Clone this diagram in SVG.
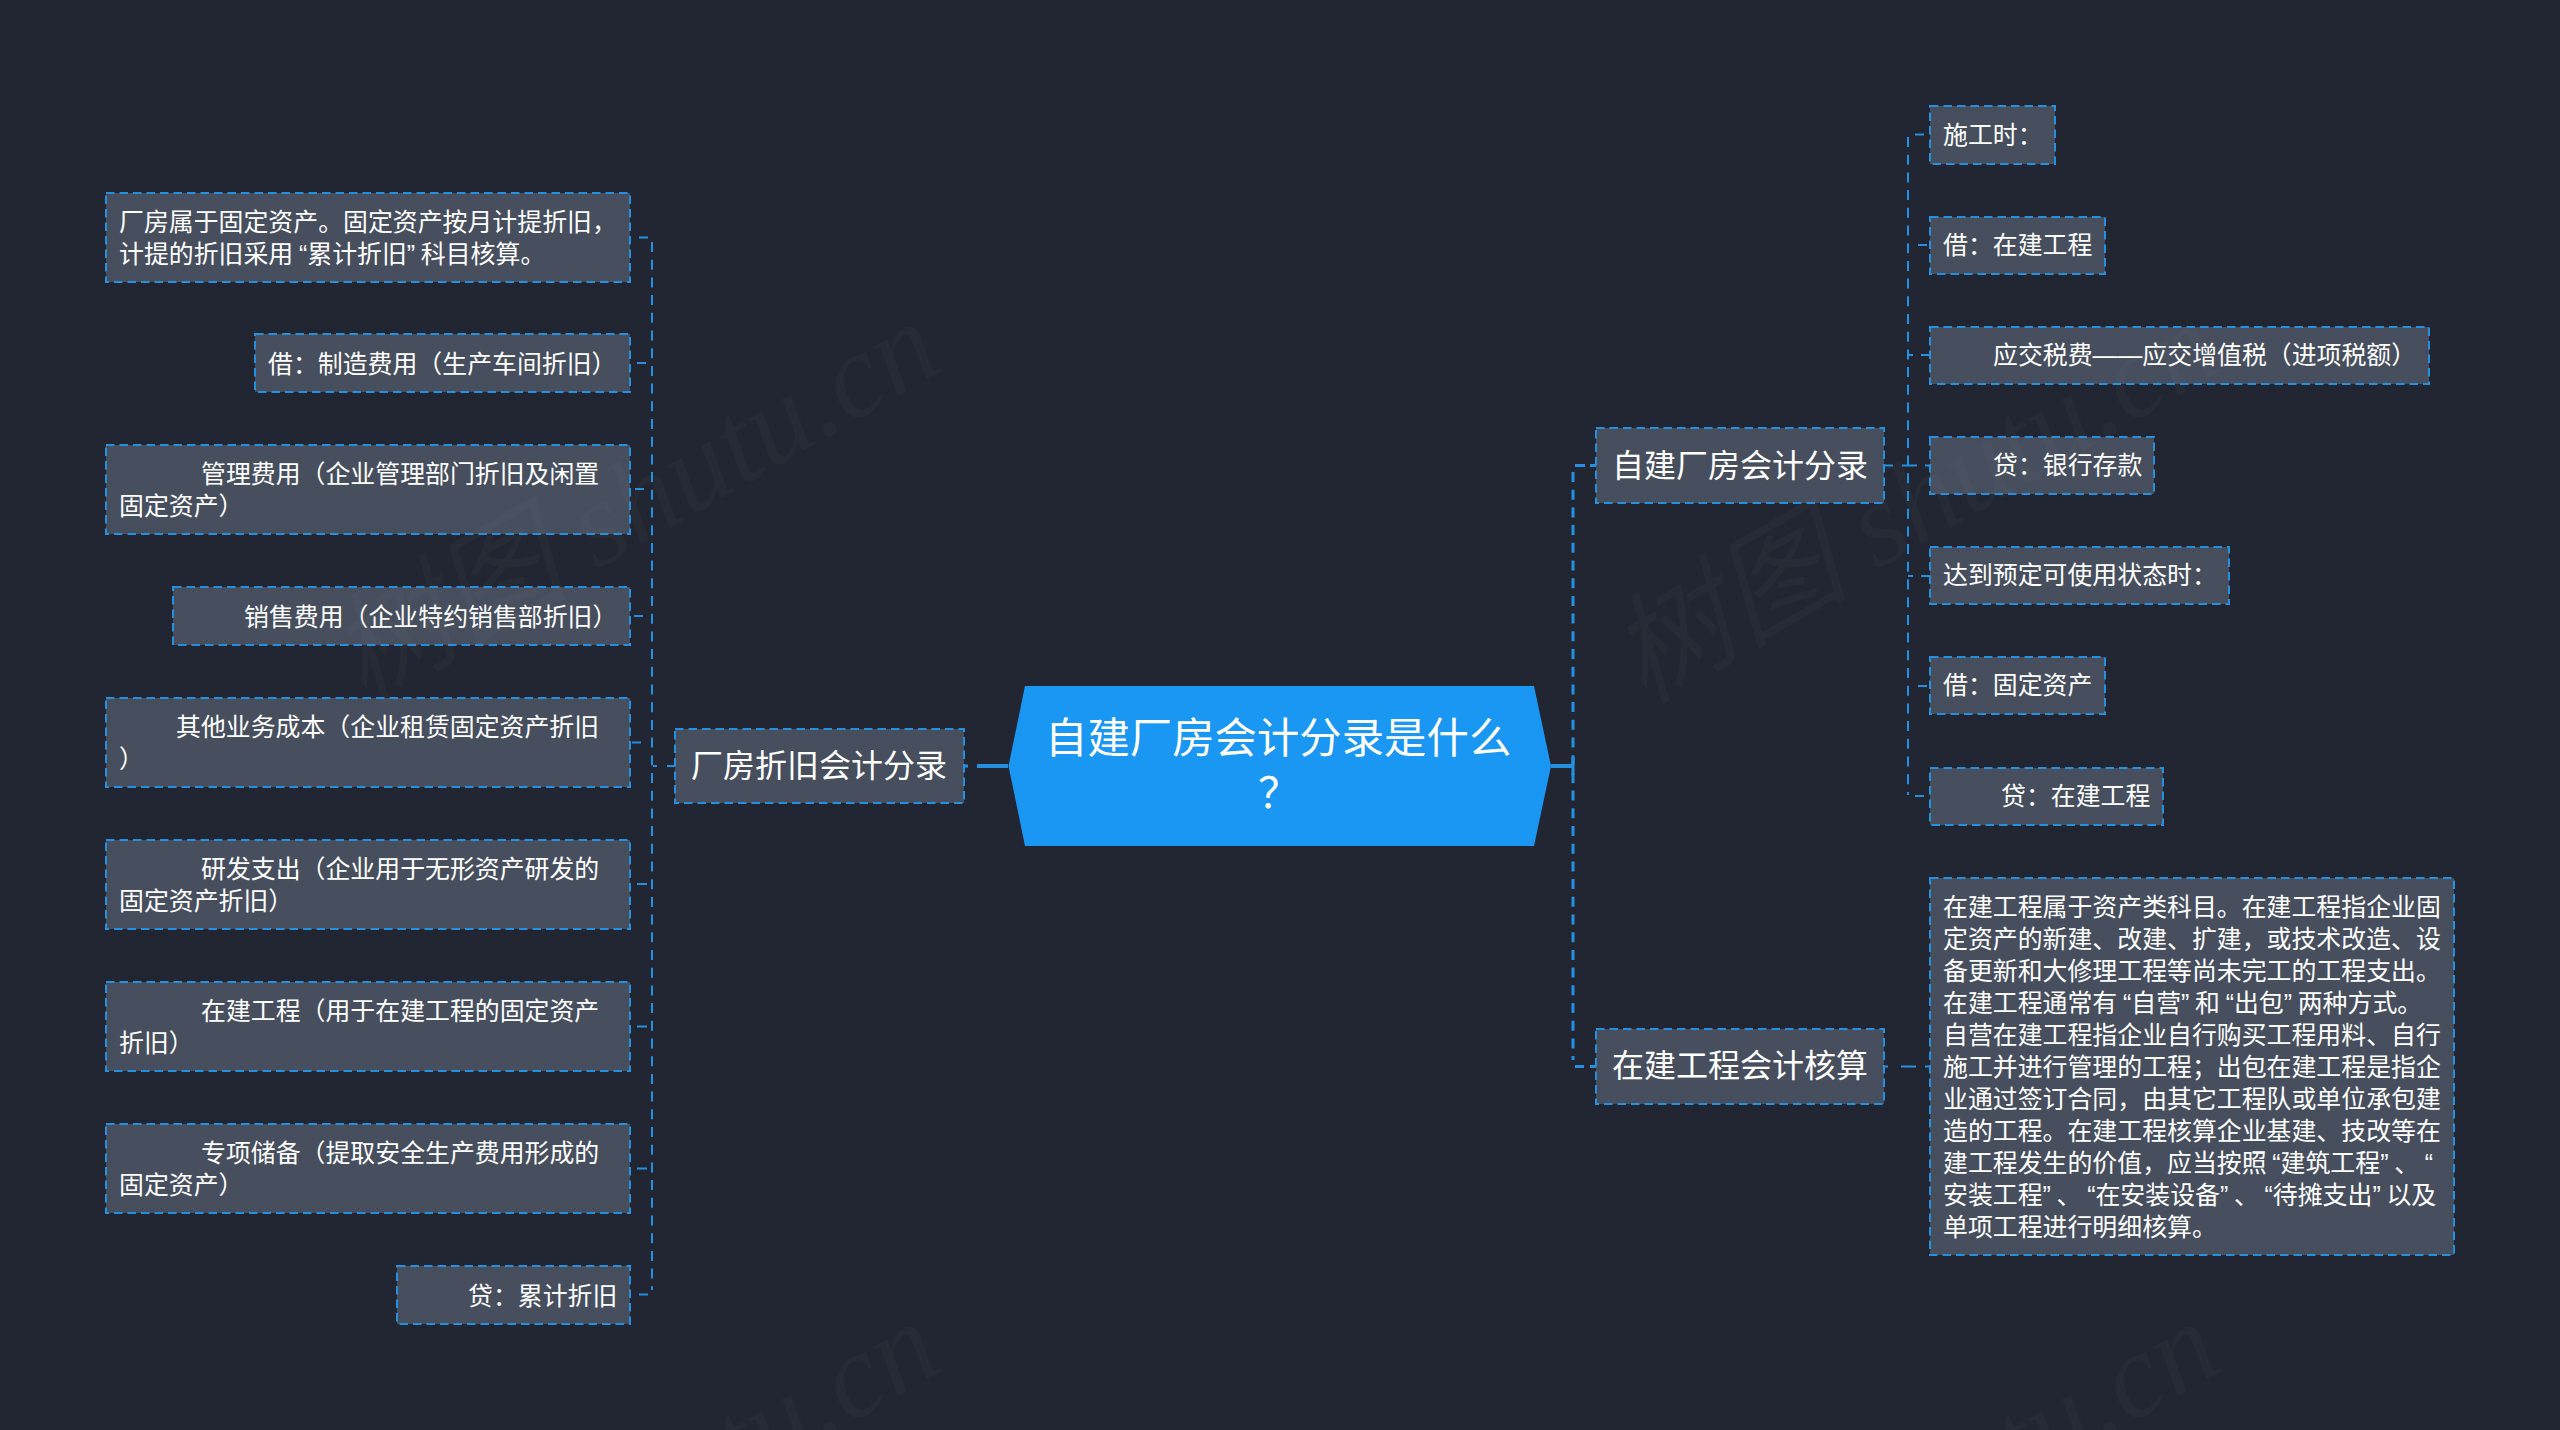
<svg xmlns="http://www.w3.org/2000/svg" width="2560" height="1430" viewBox="0 0 2560 1430">
<style>
text{font-family:"Liberation Sans","Noto Sans CJK SC",sans-serif;fill:#fff}
.n{fill:#474f5e;stroke:#2491e0;stroke-width:2;stroke-dasharray:8.500 5}
.t{font-size:24.900px}
.b{font-size:32px}
.h{font-size:42.400px}
.c{fill:none;stroke:#2491e0;stroke-width:2;stroke-dasharray:10 7.700}
.k{fill:none;stroke:#2491e0;stroke-width:2}
.s{fill:none;stroke:#2491e0;stroke-width:3;stroke-dasharray:10 7.700}
.q{fill:none;stroke:#2491e0;stroke-width:3}
.m{fill:none;stroke:#2491e0;stroke-width:4}
.w{font-family:"Liberation Serif","Noto Sans CJK SC",serif;font-size:120px;font-style:italic;fill:#8a8a8a;fill-opacity:.05}
</style>
<rect width="2560" height="1430" fill="#212632"/>
<g id="connectors">
<path class="m" d="M1008 766H977M1551 766H1573"/>
<path class="q" d="M964 766H968M1573 757V775M1575 465.500H1585M1590 465.500H1596M1575 1066.500H1584M1590 1066.500H1596"/>
<path class="s" d="M1573 472V1060"/>
<path class="c" d="M652 242V1290"/>
<path class="k" d="M653 766H657M667 766H675M639 237.500H648M637 363H646M635 489H644M634 616H643M632 742.500H641M637 884H647M637 1026.500H647M637 1168.500H647M639 1294.500H648"/>
<path class="c" d="M1908 137V795"/>
<path class="k" d="M1884 465.500H1893M1902 465.500H1917M1925 465.500H1930M1915 134.500H1924M1918 245H1927M1908 355H1913M1921 355H1930M1908 576H1913M1921 576H1930M1918 686H1927M1915 796H1924M1884 1066.500H1888M1901 1066.500H1916M1925 1066.500H1930"/>
</g>
<g id="root"><polygon points="1008.500,766 1025,686 1534,686 1551,766 1534,846 1025,846" fill="#1a97f3"/>
<text class="h" x="1045" y="753">自建厂房会计分录是什么</text>
<text class="h" x="1258" y="808">&#xFF1F;</text></g>
<g id="branch-left"><rect class="n" x="675" y="729" width="289" height="74"/><text class="b" x="691" y="777">厂房折旧会计分录</text></g>
<g id="branch-right-1"><rect class="n" x="1596" y="428" width="288" height="75"/><text class="b" x="1612" y="477">自建厂房会计分录</text></g>
<g id="branch-right-2"><rect class="n" x="1596" y="1029" width="288" height="75"/><text class="b" x="1612" y="1077">在建工程会计核算</text></g>
<g id="l1"><rect class="n" x="106" y="193" width="524" height="89"/><text class="t" x="119" y="231">厂房属于固定资产。固定资产按月计提折旧&#xFF0C;</text><text class="t" x="119" y="263">计提的折旧采用<tspan dx="5.700">“</tspan>累计折旧”<tspan dx="5.700">科</tspan>目核算。</text></g>
<g id="l2"><rect class="n" x="255" y="334" width="375" height="58"/><text class="t" x="268" y="373">借&#xFF1A;制造费用&#xFF08;生产车间折旧&#xFF09;</text></g>
<g id="l3"><rect class="n" x="106" y="445" width="524" height="89"/><text class="t" x="201" y="483">管理费用&#xFF08;企业管理部门折旧及闲置</text><text class="t" x="119" y="515">固定资产&#xFF09;</text></g>
<g id="l4"><rect class="n" x="173" y="587" width="457" height="58"/><text class="t" x="244" y="626">销售费用&#xFF08;企业特约销售部折旧&#xFF09;</text></g>
<g id="l5"><rect class="n" x="106" y="698" width="524" height="89"/><text class="t" x="176" y="736">其他业务成本&#xFF08;企业租赁固定资产折旧</text><text class="t" x="119" y="768">&#xFF09;</text></g>
<g id="l6"><rect class="n" x="106" y="840" width="524" height="89"/><text class="t" x="201" y="878">研发支出&#xFF08;企业用于无形资产研发的</text><text class="t" x="119" y="910">固定资产折旧&#xFF09;</text></g>
<g id="l7"><rect class="n" x="106" y="982" width="524" height="89"/><text class="t" x="201" y="1020">在建工程&#xFF08;用于在建工程的固定资产</text><text class="t" x="119" y="1052">折旧&#xFF09;</text></g>
<g id="l8"><rect class="n" x="106" y="1124" width="524" height="89"/><text class="t" x="201" y="1162">专项储备&#xFF08;提取安全生产费用形成的</text><text class="t" x="119" y="1194">固定资产&#xFF09;</text></g>
<g id="l9"><rect class="n" x="397" y="1266" width="233" height="58"/><text class="t" x="468" y="1305">贷&#xFF1A;累计折旧</text></g>
<g id="r1"><rect class="n" x="1930" y="106" width="125" height="58"/><text class="t" x="1943" y="144">施工时&#xFF1A;</text></g>
<g id="r2"><rect class="n" x="1930" y="217" width="175" height="57"/><text class="t" x="1943" y="254">借&#xFF1A;在建工程</text></g>
<g id="r3"><rect class="n" x="1930" y="327" width="499" height="57"/><text class="t" x="1993" y="364">应交税费——应交增值税&#xFF08;进项税额&#xFF09;</text></g>
<g id="r4"><rect class="n" x="1930" y="437" width="224" height="57"/><text class="t" x="1993" y="474">贷&#xFF1A;银行存款</text></g>
<g id="r5"><rect class="n" x="1930" y="547" width="299" height="57"/><text class="t" x="1943" y="584">达到预定可使用状态时&#xFF1A;</text></g>
<g id="r6"><rect class="n" x="1930" y="657" width="175" height="57"/><text class="t" x="1943" y="694">借&#xFF1A;固定资产</text></g>
<g id="r7"><rect class="n" x="1930" y="768" width="233" height="57"/><text class="t" x="2001" y="805">贷&#xFF1A;在建工程</text></g>
<g id="r8"><rect class="n" x="1930" y="878" width="524" height="377"/>
<text class="t" x="1943" y="916">在建工程属于资产类科目。在建工程指企业固</text>
<text class="t" x="1943" y="948">定资产的新建、改建、扩建&#xFF0C;或技术改造、设</text>
<text class="t" x="1943" y="980">备更新和大修理工程等尚未完工的工程支出。</text>
<text class="t" x="1943" y="1012">在建工程通常有<tspan dx="5.700">“</tspan>自营”<tspan dx="5.700">和</tspan><tspan dx="5.700">“</tspan>出包”<tspan dx="5.700">两</tspan>种方式。</text>
<text class="t" x="1943" y="1044">自营在建工程指企业自行购买工程用料、自行</text>
<text class="t" x="1943" y="1076">施工并进行管理的工程&#xFF1B;出包在建工程是指企</text>
<text class="t" x="1943" y="1108">业通过签订合同&#xFF0C;由其它工程队或单位承包建</text>
<text class="t" x="1943" y="1140">造的工程。在建工程核算企业基建、技改等在</text>
<text class="t" x="1943" y="1172">建工程发生的价值&#xFF0C;应当按照<tspan dx="5.700">“</tspan>建筑工程”<tspan dx="5.700">、</tspan><tspan dx="5.700">“</tspan></text>
<text class="t" x="1943" y="1204">安装工程”<tspan dx="5.700">、</tspan><tspan dx="5.700">“</tspan>在安装设备”<tspan dx="5.700">、</tspan><tspan dx="5.700">“</tspan>待摊支出”<tspan dx="5.700">以</tspan>及</text>
<text class="t" x="1943" y="1236">单项工程进行明细核算。</text></g>
<g id="watermarks">
<text class="w" transform="translate(363 705) rotate(-30)">树图 shutu.cn</text>
<text class="w" transform="translate(1643 705) rotate(-30)">树图 shutu.cn</text>
<text class="w" transform="translate(363 1705) rotate(-30)">树图 shutu.cn</text>
<text class="w" transform="translate(1643 1705) rotate(-30)">树图 shutu.cn</text>
</g>
</svg>
